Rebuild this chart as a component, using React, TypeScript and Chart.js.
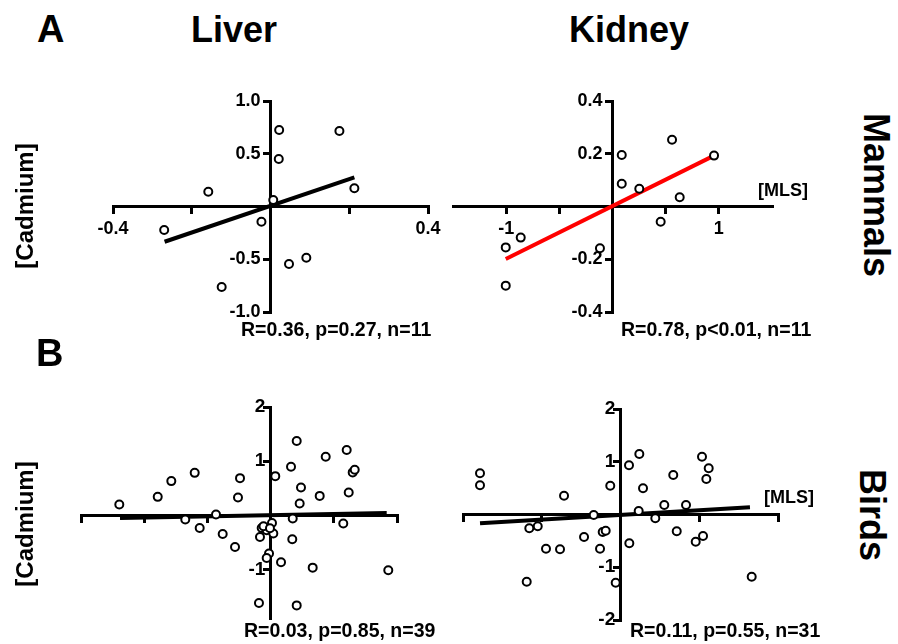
import React, { useEffect, useRef } from 'react';
import { Chart, registerables } from 'chart.js';

Chart.register(...registerables);

const FONT = "'Liberation Sans', Arial, Helvetica, sans-serif";

// ---------- A: Mammals, Liver ----------
const liverMammalsX = [-0.270, -0.158, -0.124, -0.023, 0.007, 0.022, 0.021, 0.047, 0.091, 0.175, 0.213];
const liverMammalsY = [-0.223, 0.140, -0.763, -0.144, 0.062, 0.725, 0.450, -0.545, -0.485, 0.716, 0.173];
const liverMammalsFitX = [-0.269, 0.213];
const liverMammalsFitY = [-0.334, 0.277];
const liverMammalsXTicks = [-0.4, -0.2, 0, 0.2, 0.4];
const liverMammalsXLabels = ['-0.4', '', '', '', '0.4'];
const liverMammalsYTicks = [-1, -0.5, 0, 0.5, 1];
const liverMammalsYLabels = ['-1.0', '-0.5', '', '0.5', '1.0'];
const liverMammalsStats = 'R=0.36, p=0.27, n=11';

// ---------- A: Mammals, Kidney ----------
const kidneyMammalsX = [-1.004, -0.863, -1.004, -0.118, 0.087, 0.087, 0.252, 0.453, 0.560, 0.632, 0.955];
const kidneyMammalsY = [-0.155, -0.118, -0.300, -0.158, 0.195, 0.086, 0.067, -0.058, 0.253, 0.035, 0.193];
const kidneyMammalsFitX = [-1.004, 0.955];
const kidneyMammalsFitY = [-0.199, 0.193];
const kidneyMammalsXTicks = [-1, -0.5, 0, 0.5, 1];
const kidneyMammalsXLabels = ['-1', '', '', '', '1'];
const kidneyMammalsYTicks = [-0.4, -0.2, 0, 0.2, 0.4];
const kidneyMammalsYLabels = ['-0.4', '-0.2', '', '0.2', '0.4'];
const kidneyMammalsStats = 'R=0.78, p<0.01, n=11';

// ---------- B: Birds, Liver ----------
const liverBirdsX = [-2.394, -1.786, -1.571, -1.201, -1.350, -1.122, -0.864, -0.758, -0.563, -0.484, -0.516, -0.184, -0.168, -0.141, -0.062, 0.022, 0.043, -0.025, -0.062, 0.074, 0.165, 0.323, 0.413, 0.350, 0.343, 0.460, 0.481, 0.413, 0.666, 0.872, 0.777, 1.150, 1.204, 1.236, 1.299, 1.331, 1.862, -0.112, -0.010];
const liverBirdsY = [0.198, 0.339, 0.630, 0.783, -0.080, -0.235, 0.013, -0.346, -0.587, 0.685, 0.328, -1.624, -0.402, -0.235, -0.278, -0.143, -0.339, -0.709, -0.791, 0.722, -0.870, 0.894, 1.370, -0.061, -0.444, 0.217, 0.513, -1.667, -0.969, 1.080, 0.357, -0.154, 1.204, 0.420, 0.791, 0.839, -1.019, -0.204, -0.240];
const liverBirdsFitX = [-2.383, 1.837];
const liverBirdsFitY = [-0.050, 0.043];
const liverBirdsXTicks = [-3, -2, -1, 0, 1, 2];
const liverBirdsXLabels = ['', '', '', '', '', ''];
const liverBirdsYTicks = [-1, 0, 1, 2];
const liverBirdsYLabels = ['-1', '', '1', '2'];
const liverBirdsStats = 'R=0.03, p=0.85, n=39';

// ---------- B: Birds, Kidney ----------
const kidneyBirdsX = [-1.784, -1.784, -1.191, -1.158, -1.051, -0.946, -0.768, -0.717, -0.463, -0.340, -0.260, -0.226, -0.188, -0.130, -0.061, 0.108, 0.112, 0.239, 0.231, 0.286, 0.442, 0.556, 0.670, 0.714, 0.832, 0.955, 1.048, 1.035, 1.120, 1.090, 1.666];
const kidneyBirdsY = [0.781, 0.554, -1.274, -0.262, -0.224, -0.648, -0.660, 0.356, -0.427, -0.009, -0.648, -0.332, -0.307, 0.546, -1.293, 0.933, -0.546, 1.147, 0.066, 0.497, -0.072, 0.180, 0.749, -0.318, 0.180, -0.516, -0.408, 1.096, 0.876, 0.673, -1.179];
const kidneyBirdsFitX = [-1.784, 1.644];
const kidneyBirdsFitY = [-0.167, 0.136];
const kidneyBirdsXTicks = [-2, -1, 0, 1, 2];
const kidneyBirdsXLabels = ['', '', '', '', ''];
const kidneyBirdsYTicks = [-2, -1, 0, 1, 2];
const kidneyBirdsYLabels = ['-2', '-1', '', '1', '2'];
const kidneyBirdsStats = 'R=0.11, p=0.55, n=31';

const PAD = 40;

type PanelDef = {
  area: { left: number; top: number; right: number; bottom: number };
  xMin: number; xMax: number; yMin: number; yMax: number;
  xs: number[]; ys: number[]; fitX: number[]; fitY: number[];
  xTicks: number[]; xLabels: string[]; yTicks: number[]; yLabels: string[];
  fitColor: string; fontSize: number; yGap: string;
};

const zip = (a: number[], b: number[]) => a.map((v, i) => ({ x: v, y: b[i] }));

function Panel({ def }: { def: PanelDef }) {
  const ref = useRef<HTMLCanvasElement>(null);
  const w = def.area.right - def.area.left + 2 * PAD;
  const h = def.area.bottom - def.area.top + 2 * PAD;
  useEffect(() => {
    const grid = { display: true, drawOnChartArea: false, drawTicks: true, tickLength: 6, lineWidth: 3, color: '#000' };
    const border = { display: true, width: 3, color: '#000' };
    const font = { family: FONT, size: def.fontSize, weight: 'bold' as const };
    const chart = new Chart(ref.current!, {
      type: 'scatter',
      data: {
        datasets: [
          {
            data: zip(def.xs, def.ys),
            pointRadius: 4,
            pointBorderWidth: 2,
            pointBorderColor: '#000',
            pointBackgroundColor: '#fff',
            borderColor: '#000',
            backgroundColor: '#fff',
            showLine: false,
            clip: false as any,
          },
          {
            data: zip(def.fitX, def.fitY),
            showLine: true,
            borderColor: def.fitColor,
            borderWidth: 4,
            pointRadius: 0,
            clip: false as any,
          },
        ],
      },
      options: {
        animation: false,
        responsive: false,
        devicePixelRatio: 1,
        events: [],
        layout: { padding: PAD },
        plugins: { legend: { display: false }, tooltip: { enabled: false }, title: { display: false } },
        scales: {
          x: {
            type: 'linear',
            position: { y: 0 } as any,
            min: def.xMin,
            max: def.xMax,
            grid,
            border,
            afterBuildTicks: (scale: any) => { scale.ticks = def.xTicks.map((value) => ({ value })); },
            ticks: {
              autoSkip: false, maxRotation: 0, padding: 6, color: '#000', font,
              callback: (_v: any, i: number) => def.xLabels[i],
            },
          },
          y: {
            type: 'linear',
            position: { x: 0 } as any,
            min: def.yMin,
            max: def.yMax,
            grid,
            border,
            afterBuildTicks: (scale: any) => { scale.ticks = def.yTicks.map((value) => ({ value })); },
            ticks: {
              autoSkip: false, padding: 4, color: '#000', font,
              // labels on a centred axis are drawn flush with it; a trailing gap keeps them clear of the tick marks
              callback: (_v: any, i: number) => (def.yLabels[i] ? def.yLabels[i] + def.yGap : ''),
            },
          },
        },
      },
    } as any);
    return () => chart.destroy();
  }, []);
  return (
    <canvas
      ref={ref}
      width={w}
      height={h}
      style={{ position: 'absolute', left: def.area.left - PAD, top: def.area.top - PAD, width: w, height: h }}
    />
  );
}

const panels: PanelDef[] = [
  {
    area: { left: 113, top: 101, right: 428, bottom: 312 },
    xMin: -0.4, xMax: 0.4, yMin: -1, yMax: 1,
    xs: liverMammalsX, ys: liverMammalsY, fitX: liverMammalsFitX, fitY: liverMammalsFitY,
    xTicks: liverMammalsXTicks, xLabels: liverMammalsXLabels, yTicks: liverMammalsYTicks, yLabels: liverMammalsYLabels,
    fitColor: '#000', fontSize: 18, yGap: '\u2007',
  },
  {
    area: { left: 453, top: 101, right: 772, bottom: 312 },
    xMin: -1.5, xMax: 1.5, yMin: -0.4, yMax: 0.4,
    xs: kidneyMammalsX, ys: kidneyMammalsY, fitX: kidneyMammalsFitX, fitY: kidneyMammalsFitY,
    xTicks: kidneyMammalsXTicks, xLabels: kidneyMammalsXLabels, yTicks: kidneyMammalsYTicks, yLabels: kidneyMammalsYLabels,
    fitColor: '#ff0000', fontSize: 18, yGap: '\u2007',
  },
  {
    area: { left: 81, top: 407, right: 397, bottom: 618 },
    xMin: -3, xMax: 2, yMin: -1.9, yMax: 2,
    xs: liverBirdsX, ys: liverBirdsY, fitX: liverBirdsFitX, fitY: liverBirdsFitY,
    xTicks: liverBirdsXTicks, xLabels: liverBirdsXLabels, yTicks: liverBirdsYTicks, yLabels: liverBirdsYLabels,
    fitColor: '#000', fontSize: 19, yGap: ' ',
  },
  {
    area: { left: 463, top: 409, right: 778, bottom: 620 },
    xMin: -2, xMax: 2, yMin: -2, yMax: 2,
    xs: kidneyBirdsX, ys: kidneyBirdsY, fitX: kidneyBirdsFitX, fitY: kidneyBirdsFitY,
    xTicks: kidneyBirdsXTicks, xLabels: kidneyBirdsXLabels, yTicks: kidneyBirdsYTicks, yLabels: kidneyBirdsYLabels,
    fitColor: '#000', fontSize: 19, yGap: ' ',
  },
];

function Label(props: { text: string; left: number; top: number; size: number }) {
  return (
    <div style={{
      position: 'absolute', left: props.left, top: props.top, font: `bold ${props.size}px ${FONT}`,
      lineHeight: 1, whiteSpace: 'nowrap', color: '#000',
    }}>{props.text}</div>
  );
}

function RotLabel(props: { text: string; cx: number; cy: number; size: number; deg: number }) {
  return (
    <div style={{
      position: 'absolute', left: props.cx, top: props.cy, font: `bold ${props.size}px ${FONT}`,
      lineHeight: 1, whiteSpace: 'nowrap', color: '#000',
      transform: `translate(-50%, -50%) rotate(${props.deg}deg)`,
    }}>{props.text}</div>
  );
}

export default function App() {
  return (
    <div style={{ position: 'fixed', left: 0, top: 0, width: 898, height: 644, background: '#fff', overflow: 'hidden' }}>
      {panels.map((p, i) => <Panel key={i} def={p} />)}
      <Label text="A" left={37} top={10} size={38} />
      <Label text="Liver" left={191} top={12} size={36} />
      <Label text="Kidney" left={569} top={12} size={36} />
      <Label text="B" left={36} top={334} size={38} />
      <RotLabel text="[Cadmium]" cx={25} cy={206} size={24} deg={-90} />
      <RotLabel text="[Cadmium]" cx={25} cy={524} size={24} deg={-90} />
      <RotLabel text="Mammals" cx={876} cy={195} size={36} deg={90} />
      <RotLabel text="Birds" cx={872} cy={515} size={36} deg={90} />
      <Label text="[MLS]" left={758} top={181} size={18} />
      <Label text="[MLS]" left={764} top={488} size={18} />
      <Label text={liverMammalsStats} left={241} top={320} size={19.5} />
      <Label text={kidneyMammalsStats} left={621} top={320} size={19.5} />
      <Label text={liverBirdsStats} left={244} top={621} size={19.5} />
      <Label text={kidneyBirdsStats} left={630} top={621} size={19.5} />
    </div>
  );
}
